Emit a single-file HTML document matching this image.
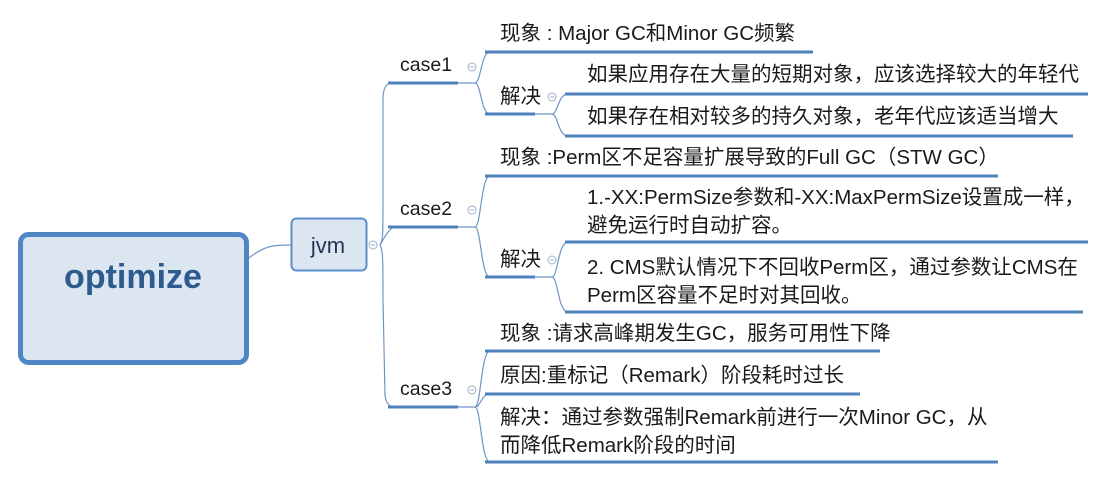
<!DOCTYPE html>
<html><head><meta charset="utf-8"><style>
body{margin:0;width:1111px;height:479px;background:#fff;position:relative;overflow:hidden;font-family:"Liberation Sans","Noto Sans CJK SC",sans-serif;color:#1a1a1a}
.t{position:absolute;font-size:20.5px;line-height:28px;white-space:nowrap}
.c{font-size:19.5px}
svg{position:absolute;left:0;top:0}
</style></head><body>
<svg width="1111" height="479">
<g fill="none" stroke="#6f95c8" stroke-width="1.2">
<path d="M249,258 C265,245 275,245 291,245"/>
<path d="M380,245 C383,240 383,235 383,200 L383,100 C383,88 386,83 392,83"/>
<path d="M380,245 C384,238 388,230 394,227"/>
<path d="M380,245 C383,250 383,260 383,300 L385,395 C386,404 390,407 394,407"/>
<path d="M458,83 L475,83 C481,83 481,52 490,52"/>
<path d="M475,83 C481,83 481,114 490,114"/>
<path d="M535,114 L552,114 C558,114 558,94 568,94"/>
<path d="M552,114 C558,114 558,136 568,136"/>
<path d="M458,227 L475,227 C481,227 481,176 490,176"/>
<path d="M475,227 C481,227 481,277 490,277"/>
<path d="M535,277 L552,277 C558,277 558,242 568,242"/>
<path d="M552,277 C558,277 558,312 568,312"/>
<path d="M458,407 L475,407 C481,407 481,351 490,351"/>
<path d="M475,407 C481,407 481,394 490,394"/>
<path d="M475,407 C481,407 481,462 490,462"/>
</g>
<g stroke="#4f81bd" stroke-width="3" fill="none">
<line x1="388" y1="83" x2="458" y2="83"/>
<line x1="388" y1="227" x2="458" y2="227"/>
<line x1="388" y1="407" x2="458" y2="407"/>
<line x1="485" y1="52" x2="813" y2="52"/>
<line x1="485" y1="114" x2="535" y2="114"/>
<line x1="565" y1="94" x2="1088" y2="94"/>
<line x1="565" y1="136" x2="1073" y2="136"/>
<line x1="485" y1="176" x2="998" y2="176"/>
<line x1="485" y1="277" x2="535" y2="277"/>
<line x1="565" y1="242" x2="1088" y2="242"/>
<line x1="565" y1="312" x2="1083" y2="312"/>
<line x1="485" y1="351" x2="880" y2="351"/>
<line x1="485" y1="394" x2="860" y2="394"/>
<line x1="485" y1="462" x2="998" y2="462"/>
</g>
<g fill="#fff" stroke="#9ab0cc" stroke-width="1">
<circle cx="373" cy="245" r="4"/>
<circle cx="472" cy="67" r="4"/>
<circle cx="472" cy="210" r="4"/>
<circle cx="472" cy="390" r="4"/>
<circle cx="552" cy="97" r="4"/>
<circle cx="552" cy="260" r="4"/>
</g>
<g stroke="#9ab0cc" stroke-width="1">
<line x1="371" y1="245" x2="375" y2="245"/><line x1="470" y1="67" x2="474" y2="67"/>
<line x1="470" y1="210" x2="474" y2="210"/><line x1="470" y1="390" x2="474" y2="390"/>
<line x1="550" y1="97" x2="554" y2="97"/><line x1="550" y1="260" x2="554" y2="260"/>
</g>
<rect x="20.5" y="234.5" width="226" height="128" rx="8" fill="#dce6f1" stroke="#4f86c6" stroke-width="5"/>
<rect x="291.5" y="218.5" width="75" height="52" rx="5" fill="#dce6f1" stroke="#5b8fcf" stroke-width="2"/>
<text x="133" y="288" text-anchor="middle" font-family="Liberation Sans, sans-serif" font-weight="bold" font-size="34" fill="#2e5b8e">optimize</text>
<text x="328" y="253" text-anchor="middle" font-family="Liberation Sans, sans-serif" font-size="22" fill="#1f3553">jvm</text>
</svg>
<div class="t c" style="left:400px;top:51px">case1</div>
<div class="t c" style="left:400px;top:195px">case2</div>
<div class="t c" style="left:400px;top:375px">case3</div>
<div class="t" style="left:500px;top:20px">现象 : Major GC和Minor GC频繁</div>
<div class="t" style="left:500px;top:83px">解决</div>
<div class="t" style="left:587px;top:61px">如果应用存在大量的短期对象，应该选择较大的年轻代</div>
<div class="t" style="left:587px;top:103px">如果存在相对较多的持久对象，老年代应该适当增大</div>
<div class="t" style="left:500px;top:144px">现象 :Perm区不足容量扩展导致的Full GC（STW GC）</div>
<div class="t" style="left:587px;top:184px">1.-XX:PermSize参数和-XX:MaxPermSize设置成一样，<br>避免运行时自动扩容。</div>
<div class="t" style="left:500px;top:246px">解决</div>
<div class="t" style="left:587px;top:254px">2. CMS默认情况下不回收Perm区，通过参数让CMS在<br>Perm区容量不足时对其回收。</div>
<div class="t" style="left:500px;top:320px">现象 :请求高峰期发生GC，服务可用性下降</div>
<div class="t" style="left:500px;top:362px">原因:重标记（Remark）阶段耗时过长</div>
<div class="t" style="left:500px;top:404px">解决：通过参数强制Remark前进行一次Minor GC，从<br>而降低Remark阶段的时间</div>
</body></html>
